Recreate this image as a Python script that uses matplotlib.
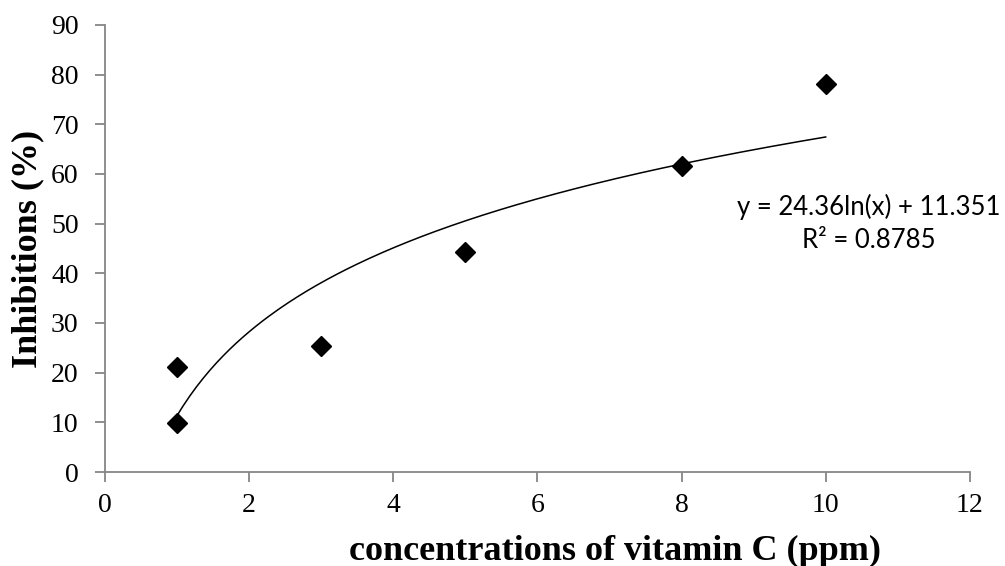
import numpy as np
import matplotlib
matplotlib.use("Agg")
import matplotlib.pyplot as plt

# data
conc = [1, 1, 3, 5, 8, 10]
inhib = [21.2, 9.8, 25.4, 44.3, 61.6, 78.1]
# log trendline shown on the chart
fit_a = 24.36
fit_b = 11.351
fit_r2 = 0.8785

axis_grey = '#868686'

fig = plt.figure(figsize=(10.05, 5.66), dpi=100)
ax = fig.add_axes([0.1045, 0.166, 0.8605, 0.790])

xs = np.linspace(min(conc), max(conc), 200)
ax.plot(xs, fit_a * np.log(xs) + fit_b, color='black', lw=1.1)
ax.plot(conc, inhib, linestyle='none', marker='D', markersize=10.5,
        color='black')

ax.set_xlim(0, 12)
ax.set_ylim(0, 90)
ax.set_xticks(range(0, 13, 2))
ax.set_yticks(range(0, 91, 10))

for s in ['top', 'right']:
    ax.spines[s].set_visible(False)
for s in ['left', 'bottom']:
    ax.spines[s].set_color(axis_grey)
    ax.spines[s].set_linewidth(1.3)
ax.tick_params(direction='out', length=7, width=1.3, color=axis_grey,
               labelsize=20)
ax.tick_params(axis='x', pad=8)
ax.tick_params(axis='y', pad=12)
for lab in ax.get_xticklabels() + ax.get_yticklabels():
    lab.set_fontfamily('Liberation Serif')

ax.set_xlabel('concentrations of vitamin C (ppm)', fontsize=26,
              fontweight='bold', family='Liberation Serif')
ax.xaxis.set_label_coords(0.59, -0.14)
ax.set_ylabel('Inhibitions (%)', fontsize=26, fontweight='bold',
              family='Liberation Serif')
ax.yaxis.set_label_coords(-0.07, 0.5)

ax.text(10.6, 50.0, 'y = %.2fln(x) + %.3f\nR² = %.4f' % (fit_a, fit_b, fit_r2),
        ha='center', va='center', fontsize=18.5, family=['Lato', 'DejaVu Sans'],
        linespacing=1.4, clip_on=False)

plt.savefig('out.png', dpi=100)
